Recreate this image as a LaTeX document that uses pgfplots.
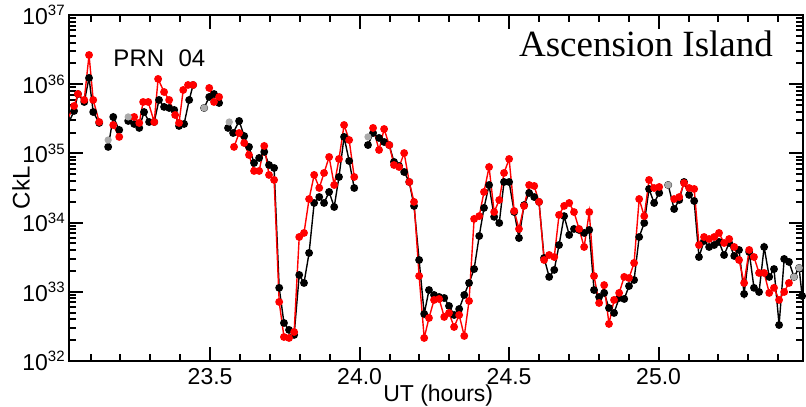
\documentclass[border=0pt]{standalone}
\usepackage{pgfplots}
\usepackage{pgfplotstable}
\pgfplotsset{compat=1.18}
\usepackage{fontspec}
\setmainfont{Liberation Sans}
\newfontfamily\timesfont{Liberation Serif}
\newcommand\sci[1]{10\raisebox{4.2pt}{\fontsize{7.5}{8}\selectfont #1}}
\definecolor{grpt}{RGB}{170,170,170}

\pgfplotstableread{
x y
23.025 2.66e35
23.045 4.10e35
23.058 7.21e35
23.079 5.53e35
23.095 1.23e36
23.109 3.96e35
23.129 2.75e35
23.14 nan
23.159 1.24e35
23.176 3.36e35
23.196 2.18e35
23.21 nan
23.226 2.94e35
23.246 2.66e35
23.263 2.33e35
23.279 3.96e35
23.296 2.84e35
23.313 2.84e35
23.329 5.91e35
23.346 4.69e35
23.363 4.53e35
23.380 4.24e35
23.396 2.49e35
23.413 2.66e35
23.430 5.91e35
23.443 9.73e35
23.46 nan
23.480 4.53e35
23.497 6.53e35
23.513 7.21e35
23.530 5.35e35
23.545 nan
23.560 2.33e35
23.577 1.97e35
23.597 2.94e35
23.614 1.78e35
23.630 1.24e35
23.647 7.27e34
23.664 8.59e34
23.681 1.05e35
23.697 6.79e34
23.714 6.15e34
23.731 1.14e33
23.747 3.54e32
23.764 2.81e32
23.781 2.38e32
23.798 1.75e33
23.814 1.34e33
23.831 3.64e33
23.848 1.92e34
23.865 2.34e34
23.881 1.92e34
23.898 2.77e34
23.915 1.68e34
23.931 4.56e34
23.948 1.73e35
23.965 7.76e34
23.982 3.16e34
24.00 nan
24.028 1.32e35
24.045 1.97e35
24.065 1.67e35
24.082 1.46e35
24.099 1.32e35
24.115 7.52e34
24.132 6.58e34
24.149 5.38e34
24.166 3.86e34
24.182 1.74e34
24.199 2.88e33
24.216 4.78e32
24.232 1.06e33
24.249 8.99e32
24.266 8.41e32
24.283 8.13e32
24.299 6.24e32
24.316 4.62e32
24.333 5.64e32
24.350 8.99e32
24.366 1.34e33
24.383 2.13e33
24.400 6.40e33
24.416 1.63e34
24.433 3.49e34
24.450 1.21e34
24.467 9.86e33
24.483 3.86e34
24.500 3.86e34
24.517 1.42e34
24.533 5.98e33
24.550 1.79e34
24.567 2.68e34
24.584 2.34e34
24.600 1.99e34
24.617 3.08e33
24.634 1.64e33
24.651 2.07e33
24.667 4.74e33
24.684 1.24e34
24.701 6.62e33
24.717 8.09e33
24.734 7.82e33
24.751 7.08e33
24.768 7.82e33
24.784 1.06e33
24.801 8.41e32
24.818 9.62e32
24.834 5.83e32
24.851 4.94e32
24.868 8.13e32
24.885 7.87e32
24.901 1.21e33
24.918 1.48e33
24.935 6.19e33
24.952 9.86e33
24.968 3.06e34
24.985 1.92e34
25.002 2.68e34
25.02 nan
25.032 3.49e34
25.052 1.57e34
25.069 2.12e34
25.085 3.86e34
25.102 2.51e34
25.119 2.05e34
25.135 3.18e33
25.152 5.42e33
25.169 4.44e33
25.186 4.74e33
25.202 5.25e33
25.219 3.40e33
25.236 5.07e33
25.253 3.29e33
25.269 4.02e33
25.286 9.29e32
25.303 3.76e33
25.319 1.14e33
25.336 9.93e32
25.353 4.44e33
25.370 1.64e33
25.386 2.13e33
25.403 3.31e32
25.420 2.98e33
25.436 2.70e33
25.453 1.64e33
25.470 2.21e33
25.480 8.69e32
}\blackdata

\pgfplotstableread{
x y
23.025 3.25e35
23.045 4.84e35
23.058 7.21e35
23.079 5.91e35
23.095 2.64e36
23.109 5.91e35
23.129 2.84e35
23.15 nan
23.176 2.57e35
23.196 1.73e35
23.22 nan
23.246 3.36e35
23.263 2.75e35
23.276 5.53e35
23.293 5.53e35
23.313 2.84e35
23.326 1.19e36
23.346 7.71e35
23.363 5.91e35
23.383 3.59e35
23.396 2.75e35
23.410 8.24e35
23.426 9.73e35
23.443 9.73e35
23.47 nan
23.497 8.81e35
23.513 5.53e35
23.530 6.53e35
23.55 nan
23.580 1.24e35
23.597 1.97e35
23.614 1.41e35
23.630 9.48e34
23.647 5.57e34
23.664 5.57e34
23.681 1.28e35
23.697 4.88e34
23.714 4.13e34
23.731 7.13e32
23.747 2.22e32
23.764 2.15e32
23.781 2.62e32
23.798 6.19e33
23.814 7.08e33
23.831 2.19e34
23.848 4.88e34
23.865 3.16e34
23.881 5.21e34
23.898 8.87e34
23.915 3.49e34
23.931 8.30e34
23.948 2.57e35
23.965 1.56e35
23.982 4.56e34
24.01 nan
24.045 2.33e35
24.065 1.12e35
24.082 2.25e35
24.099 1.32e35
24.115 6.79e34
24.132 6.35e34
24.149 1.01e35
24.166 3.86e34
24.182 1.99e34
24.199 1.69e33
24.216 2.15e32
24.232 4.18e32
24.249 7.62e32
24.266 7.87e32
24.283 4.33e32
24.299 4.94e32
24.316 3.10e32
24.333 4.62e32
24.350 2.30e32
24.366 7.36e32
24.383 1.13e34
24.400 1.24e34
24.416 2.77e34
24.433 6.35e34
24.450 1.42e34
24.467 2.12e34
24.483 5.21e34
24.500 8.30e34
24.517 1.47e34
24.533 8.09e33
24.550 1.74e34
24.567 3.49e34
24.584 3.38e34
24.600 1.99e34
24.617 2.88e33
24.634 3.40e33
24.651 3.18e33
24.667 1.29e34
24.684 1.74e34
24.701 1.92e34
24.717 1.42e34
24.734 8.09e33
24.751 4.44e33
24.768 1.42e34
24.784 1.69e33
24.801 6.89e32
24.818 1.25e33
24.834 3.43e32
24.851 7.62e32
24.868 9.62e32
24.885 1.64e33
24.901 1.58e33
24.918 2.61e33
24.935 2.19e34
24.952 1.24e34
24.968 4.13e34
24.985 3.16e34
25.002 3.27e34
25.03 nan
25.052 2.19e34
25.069 2.34e34
25.085 3.73e34
25.102 3.16e34
25.119 3.06e34
25.135 4.74e33
25.152 6.19e33
25.169 5.79e33
25.186 6.19e33
25.202 7.08e33
25.219 5.07e33
25.236 5.79e33
25.253 4.44e33
25.269 2.88e33
25.286 1.34e33
25.303 4.02e33
25.319 3.18e33
25.336 1.87e33
25.353 1.87e33
25.370 9.62e32
25.386 1.14e33
25.403 7.62e32
25.420 9.93e32
25.436 1.34e33
}\reddata

\pgfplotstableread{
x y
23.159 1.56e35
23.226 3.36e35
23.480 4.53e35
23.564 2.84e35
24.028 1.73e35
25.032 3.49e34
25.453 1.64e33
25.470 2.21e33
}\graydata

\begin{document}
\begin{tikzpicture}
\useasboundingbox (-34.5pt,-22.5pt) rectangle (368.5pt,180.5pt);
\begin{axis}[
  scale only axis, width=367pt, height=173pt,
  xmin=23.028, xmax=25.483,
  ymode=log, log basis y=10, ymin=1e32, ymax=1e37,
  xtick={23.5,24.0,24.5,25.0},
  minor xtick={23.1,23.2,23.3,23.4,23.6,23.7,23.8,23.9,24.1,24.2,24.3,24.4,24.6,24.7,24.8,24.9,25.1,25.2,25.3,25.4},
  xticklabel style={/pgf/number format/.cd, fixed, fixed zerofill, precision=1, assume math mode=true},
  yticklabel={\sci{\pgfmathparse{int(round(\tick))}\pgfmathresult}},
  tick label style={font=\fontsize{11.5}{13}\selectfont},
  yticklabel style={inner sep=1pt, xshift=-1pt},
  axis line style={line width=1.4pt},
  major tick length=7pt, minor tick length=3.5pt,
  tick style={black, line width=1pt},
  xlabel={UT (hours)},
  xlabel style={at={(rel axis cs:0.503,-0.1176)}, anchor=base, font=\fontsize{11.5}{13}\selectfont},
  ylabel={CkL},
  ylabel style={at={(rel axis cs:-0.0654,0.5)}, anchor=center, font=\fontsize{12}{14}\selectfont},
  unbounded coords=jump,
]
\addplot[black, line width=0.7pt, mark=*, mark size=1.6pt] table {\blackdata};
\addplot[red, line width=0.7pt, mark=*, mark size=1.6pt] table {\reddata};
\addplot[grpt, only marks, mark=*, mark size=1.6pt] table {\graydata};
\node[anchor=base west, font=\fontsize{12}{14}\selectfont] at (rel axis cs:0.051,0.851) {PRN\hspace{0.6em}04};
\node[anchor=base west, font=\timesfont\fontsize{18.5}{20}\selectfont] at (rel axis cs:0.6035,0.879) {Ascension Island};
\end{axis}
\end{tikzpicture}
\end{document}
